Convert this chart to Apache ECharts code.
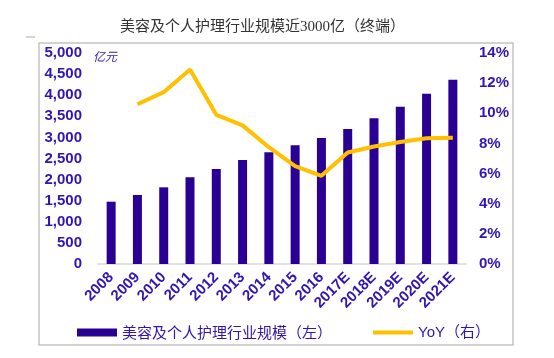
<!DOCTYPE html>
<html>
<head>
<meta charset="utf-8">
<script src="https://cdn.jsdelivr.net/npm/echarts@6/dist/echarts.min.js"></script>
<style>html,body{margin:0;padding:0;background:#fff;}#c{width:554px;height:358px;}</style>
</head>
<body>
<div id="c"></div>
<script>
const categories = ['2008','2009','2010','2011','2012','2013','2014','2015','2016','2017E','2018E','2019E','2020E','2021E'];
const marketSize = [1476, 1635, 1817, 2054, 2251, 2464, 2647, 2813, 2986, 3199, 3453, 3727, 4036, 4367];
const yoy = [null, 10.6, 11.4, 12.9, 9.9, 9.2, 7.75, 6.5, 5.85, 7.4, 7.8, 8.1, 8.35, 8.37];
const leftTicks = {min: 0, max: 5000, interval: 500};
const rightTicks = {min: 0, max: 14, interval: 2};

const labelColor = '#3314B0';
const chart = echarts.init(document.getElementById('c'));
chart.setOption({
  animation: false,
  backgroundColor: '#fff',
  title: {
    text: '美容及个人护理行业规模近3000亿（终端）',
    left: 115, top: 15,
    textStyle: {fontSize: 15, fontWeight: 'normal', color: '#333', fontFamily: 'Liberation Serif, Noto Sans CJK SC'}
  },
  graphic: [
    {type: 'rect', shape: {x: 39, y: 43, width: 474, height: 302}, style: {fill: 'none', stroke: '#c4c4c4', lineWidth: 1.5}, silent: true},
    {type: 'line', shape: {x1: 26, y1: 37, x2: 35, y2: 37}, style: {stroke: '#aaa', lineWidth: 1}},
    {type: 'text', left: 93, top: 50, style: {text: '亿元', fontSize: 12, fill: labelColor, fontStyle: 'italic', fontFamily: 'Noto Sans CJK SC'}}
  ],
  legend: [
    {data: ['美容及个人护理行业规模（左）'], left: 72, top: 320, itemWidth: 40, itemHeight: 8, icon: 'rect', itemGap: 5,
     textStyle: {fontSize: 15, color: labelColor, fontFamily: 'Noto Sans CJK SC'}},
    {data: ['YoY（右）'], left: 368, top: 320, itemWidth: 40, itemHeight: 4, icon: 'rect', itemGap: 5,
     textStyle: {fontSize: 15, color: labelColor, fontFamily: 'Liberation Sans, Noto Sans CJK SC'}}
  ],
  grid: {left: 98, right: 88, top: 53, bottom: 94, containLabel: false},
  xAxis: {
    type: 'category', data: categories,
    axisLine: {lineStyle: {color: '#d9d9d9', width: 1.5}},
    axisTick: {show: false},
    axisLabel: {rotate: 45, interval: 0, fontSize: 15, fontWeight: 'bold', color: labelColor, fontFamily: 'Liberation Sans', margin: 11}
  },
  yAxis: [
    {type: 'value', min: leftTicks.min, max: leftTicks.max, interval: leftTicks.interval,
     axisLine: {show: false}, axisTick: {show: false}, splitLine: {show: false},
     axisLabel: {fontSize: 15, fontWeight: 'bold', color: labelColor, fontFamily: 'Liberation Sans', margin: 16,
       formatter: v => v.toLocaleString('en-US')}},
    {type: 'value', min: rightTicks.min, max: rightTicks.max, interval: rightTicks.interval,
     axisLine: {show: false}, axisTick: {show: false}, splitLine: {show: false},
     axisLabel: {fontSize: 15, fontWeight: 'bold', color: labelColor, fontFamily: 'Liberation Sans', margin: 13, formatter: '{value}%'}}
  ],
  series: [
    {name: '美容及个人护理行业规模（左）', type: 'bar', data: marketSize, barWidth: 9,
     itemStyle: {color: '#2A0094'}},
    {name: 'YoY（右）', type: 'line', yAxisIndex: 1, data: yoy, symbol: 'none',
     lineStyle: {color: '#FFC000', width: 4}, itemStyle: {color: '#FFC000'}}
  ]
});
</script>
</body>
</html>
